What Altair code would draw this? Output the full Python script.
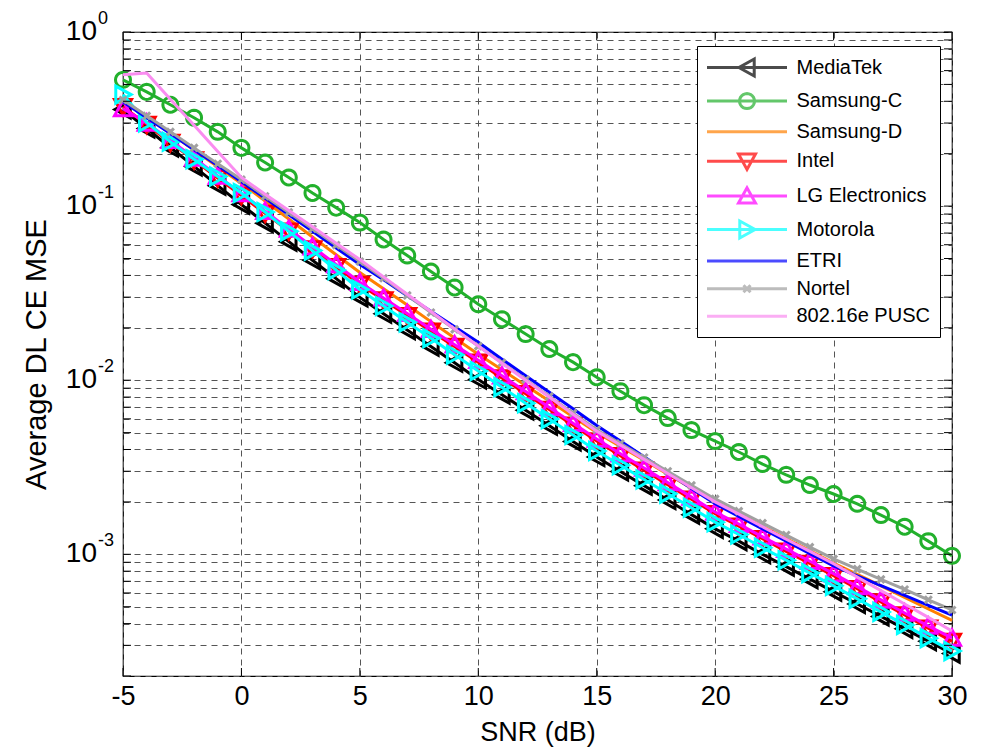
import math
import altair as alt
import pandas as pd

# ---------------- data ----------------
snr = list(range(-5, 31))

series_names = ["MediaTek", "Samsung-C", "Samsung-D", "Intel", "LG Electronics",
                "Motorola", "ETRI", "Nortel", "802.16e PUSC"]
colors = ["#000000", "#22B02C", "#FF8000", "#FF0000", "#FF00FF",
          "#00FFFF", "#0000FF", "#A0A0A0", "#FA8CF0"]

mediatek = [0.359, 0.279, 0.217, 0.169, 0.131, 0.102,
            0.0798, 0.0625, 0.0489, 0.0383, 0.0299, 0.0241, 0.0194, 0.0156, 0.0126, 0.0101,
            0.00826, 0.00671, 0.00547, 0.00445, 0.00362, 0.00299, 0.00248, 0.00205, 0.00169, 0.0014,
            0.00119, 0.001, 0.000849, 0.00072, 0.00061, 0.000518, 0.00044, 0.000373, 0.000317, 0.000269]
samsung_c = [0.531, 0.453, 0.382, 0.322, 0.267, 0.216,
             0.178, 0.146, 0.119, 0.098, 0.0804, 0.0643, 0.052, 0.0421, 0.0341, 0.0273,
             0.0224, 0.0184, 0.0151, 0.0127, 0.0104, 0.00865, 0.00719, 0.00606, 0.00517, 0.00447,
             0.00387, 0.0033, 0.00286, 0.0025, 0.00222, 0.00195, 0.00168, 0.00144, 0.00119, 0.00098]
samsung_d = [0.407, 0.327, 0.262, 0.21, 0.168, 0.135,
             0.107, 0.0843, 0.0665, 0.0526, 0.0416, 0.0335, 0.027, 0.0217, 0.0175, 0.0141,
             0.0115, 0.00931, 0.00759, 0.00617, 0.00501, 0.00417, 0.00347, 0.00288, 0.0024, 0.002,
             0.0017, 0.00145, 0.00123, 0.00105, 0.000891, 0.000766, 0.000658, 0.000565, 0.000485, 0.000417]
intel = [0.372, 0.294, 0.232, 0.184, 0.145, 0.115,
         0.0908, 0.0718, 0.0568, 0.0449, 0.0355, 0.0289, 0.0235, 0.0191, 0.0156, 0.0127,
         0.0103, 0.00836, 0.00678, 0.00551, 0.00447, 0.00368, 0.00304, 0.00251, 0.00207, 0.00171,
         0.00145, 0.00123, 0.00104, 0.000887, 0.000753, 0.000634, 0.000532, 0.000448, 0.000376, 0.000316]
lg = [0.363, 0.300, 0.239, 0.189, 0.149, 0.118,
      0.0934, 0.0738, 0.0584, 0.0462, 0.0365, 0.0297, 0.0242, 0.0196, 0.016, 0.013,
      0.0106, 0.0086, 0.00697, 0.00566, 0.0046, 0.00378, 0.00313, 0.00258, 0.00213, 0.00175,
      0.00149, 0.00126, 0.00107, 0.000912, 0.000774, 0.000652, 0.000547, 0.00046, 0.000387, 0.000331]
motorola = [0.437, 0.302, 0.234, 0.186, 0.148, 0.119,
            0.0925, 0.0716, 0.0555, 0.0429, 0.0332, 0.0267, 0.0215, 0.0174, 0.014, 0.0113,
            0.00912, 0.00738, 0.00598, 0.00484, 0.00392, 0.00325, 0.00269, 0.00223, 0.00185, 0.00153,
            0.0013, 0.00109, 0.000925, 0.00078, 0.000659, 0.000555, 0.000467, 0.000393, 0.00033, 0.000278]
etri = [0.398, 0.322, 0.261, 0.211, 0.171, 0.138,
        0.111, 0.0891, 0.0716, 0.0575, 0.0462, 0.0377, 0.0306, 0.0249, 0.0203, 0.0165,
        0.0132, 0.0106, 0.00853, 0.00685, 0.0055, 0.00447, 0.00363, 0.00294, 0.00239, 0.00195,
        0.00165, 0.0014, 0.00119, 0.00101, 0.000859, 0.000753, 0.000661, 0.000581, 0.000509, 0.000447]
nortel = [0.407, 0.33, 0.267, 0.216, 0.175, 0.142,
          0.114, 0.092, 0.0741, 0.0597, 0.0481, 0.0385, 0.0307, 0.0245, 0.0196, 0.0157,
          0.0126, 0.0101, 0.00807, 0.00647, 0.00519, 0.00433, 0.0036, 0.003, 0.00249, 0.00208,
          0.00177, 0.00151, 0.00129, 0.0011, 0.000942, 0.000822, 0.000718, 0.000628, 0.000548, 0.000479]
pusc = [0.568, 0.582, 0.411, 0.291, 0.206, 0.146,
        0.117, 0.0944, 0.076, 0.0612, 0.0493, 0.0392, 0.0312, 0.0248, 0.0197, 0.0157,
        0.0125, 0.01, 0.008, 0.00638, 0.0051, 0.00424, 0.00351, 0.00291, 0.00241, 0.002,
        0.0017, 0.00144, 0.00122, 0.00104, 0.000883, 0.00074, 0.000619, 0.000518, 0.000434, 0.000363]

series_values = [mediatek, samsung_c, samsung_d, intel, lg, motorola, etri, nortel, pusc]

x_ticks = [-5, 0, 5, 10, 15, 20, 25, 30]
y_decades = [1, 0.1, 0.01, 0.001]
y_exponents = ["0", "-1", "-2", "-3"]

# ---------------- marker geometry (style) ----------------
def poly(points, scale):
    s = f"M{points[0][0]*scale:.3f},{points[0][1]*scale:.3f}"
    for p in points[1:]:
        s += f"L{p[0]*scale:.3f},{p[1]*scale:.3f}"
    return s + "Z"

circle_pts = [(math.cos(2 * math.pi * k / 24), math.sin(2 * math.pi * k / 24)) for k in range(24)]
marker_defs = {
    "MediaTek": ("poly", [(0.85, -1.0), (-0.95, 0.0), (0.85, 1.0)], 8.5),
    "Samsung-C": ("poly", circle_pts, 7.5),
    "Intel": ("poly", [(-1.0, -0.85), (1.0, -0.85), (0.0, 0.95)], 8.5),
    "LG Electronics": ("poly", [(-1.0, 0.85), (1.0, 0.85), (0.0, -0.95)], 8.5),
    "Motorola": ("poly", [(-0.85, -1.0), (0.95, 0.0), (-0.85, 1.0)], 8.5),
    "Nortel": ("x", None, 3.5),
}

def marker_path(name, scale):
    kind, pts, _ = marker_defs[name]
    if kind == "poly":
        return poly(pts, scale)
    return (f"M{-scale:.3f},{-scale:.3f}L{scale:.3f},{scale:.3f}"
            f"M{-scale:.3f},{scale:.3f}L{scale:.3f},{-scale:.3f}")

LEG_SCALE = 10.0  # sqrt(400)/2
legend_paths = []
for name in series_names:
    p = "M-4,0L4,0"
    if name in marker_defs:
        p += marker_path(name, marker_defs[name][2] / LEG_SCALE)
    legend_paths.append(p)

# ---------------- chart ----------------
rows = []
for name, vals in zip(series_names, series_values):
    for s, v in zip(snr, vals):
        rows.append({"snr": s, "mse": v, "series": name})
df = pd.DataFrame(rows)

FONT = "Liberation Sans"
LW = 3
grid_dash = [6, 5]
y_tick_vals = [k * 10.0 ** e for e in (-4, -3, -2, -1) for k in range(1, 10) if k * 10.0 ** e >= 2e-4] + [1.0]

W, H = 829, 644
xscale = alt.Scale(domain=[-5, 30], nice=False, zero=False)
yscale = alt.Scale(type="log", domain=[2e-4, 1], nice=False)
xaxis = alt.Axis(values=x_ticks, ticks=False, domain=False, grid=True, gridDash=grid_dash,
                 gridColor="#555555", gridWidth=1, labelExpr="'' + datum.value",
                 labelFlush=False, labelFontSize=27, labelPadding=7,
                 title="SNR (dB)", titleFontSize=27, titlePadding=10)
yaxis = alt.Axis(values=y_tick_vals, labels=False, ticks=False, domain=False, grid=True,
                 gridDash=grid_dash, gridColor="#555555", gridWidth=1,
                 title="Average DL CE MSE", titleFontSize=29, titlePadding=72)

X = alt.X("snr:Q", scale=xscale, axis=xaxis)
Y = alt.Y("mse:Q", scale=yscale, axis=yaxis)

base = alt.Chart(df)
layers = []
for name, col in zip(series_names, colors):
    sub = base.transform_filter(alt.datum.series == name)
    layers.append(sub.mark_line(color=col, strokeWidth=LW).encode(x=X, y=Y))
    if name in marker_defs:
        _, _, sc = marker_defs[name]
        layers.append(sub.mark_point(shape=marker_path(name, 1.0), size=(2 * sc) ** 2,
                                     filled=False, stroke=col, strokeWidth=LW, opacity=1)
                      .encode(x=X, y=Y))

# inward ticks (MATLAB style) on all four sides
ytick_df = pd.DataFrame({"mse": y_tick_vals})
xtick_df = pd.DataFrame({"snr": x_ticks})
TL = 8
layers.append(alt.Chart(ytick_df).mark_rule(color="black", strokeWidth=1)
              .encode(y=Y, x=alt.value(0), x2=alt.value(TL)))
layers.append(alt.Chart(ytick_df).mark_rule(color="black", strokeWidth=1)
              .encode(y=Y, x=alt.value(W - TL), x2=alt.value(W)))
layers.append(alt.Chart(xtick_df).mark_rule(color="black", strokeWidth=1)
              .encode(x=X, y=alt.value(H - TL), y2=alt.value(H)))
layers.append(alt.Chart(xtick_df).mark_rule(color="black", strokeWidth=1)
              .encode(x=X, y=alt.value(0), y2=alt.value(TL)))

legend = alt.Legend(title=None, orient="none", legendX=574, legendY=14, padding=10,
                    fillColor="white", strokeColor="black", symbolSize=400,
                    symbolStrokeWidth=LW, symbolOffset=28.5, labelOffset=38,
                    labelFontSize=20, labelFont=FONT, labelColor="black",
                    rowPadding=5.6, symbolFillColor="transparent", labelLimit=300)
legend_layer = base.transform_filter("false").mark_point(filled=False, strokeWidth=LW).encode(
    stroke=alt.Stroke("series:N", scale=alt.Scale(domain=series_names, range=colors), legend=legend),
    shape=alt.Shape("series:N", scale=alt.Scale(domain=series_names, range=legend_paths), legend=legend),
)
layers.append(legend_layer)

lab_df = pd.DataFrame({"mse": y_decades, "base": ["10"] * 4, "exp": y_exponents})
lab = alt.Chart(lab_df)
layers.append(lab.mark_text(align="right", baseline="middle", fontSize=28, font=FONT, color="black")
              .encode(y=Y, x=alt.value(-26), text="base:N"))
layers.append(lab.mark_text(align="left", baseline="middle", fontSize=18, font=FONT, color="black", dy=-13)
              .encode(y=Y, x=alt.value(-25), text="exp:N"))

chart = alt.layer(*layers).properties(
    width=W, height=H,
    autosize=alt.AutoSizeParams(type="none"),
    padding={"left": 115, "top": 24, "right": 26, "bottom": 72},
).configure_view(stroke="black", strokeWidth=1.2).configure_axis(
    labelFont=FONT, titleFont=FONT, labelColor="black", titleColor="black",
    titleFontWeight="normal", gridOpacity=1,
).configure_legend(labelFont=FONT)

chart.save("out.html", embed_options={"renderer": "svg", "actions": False})
